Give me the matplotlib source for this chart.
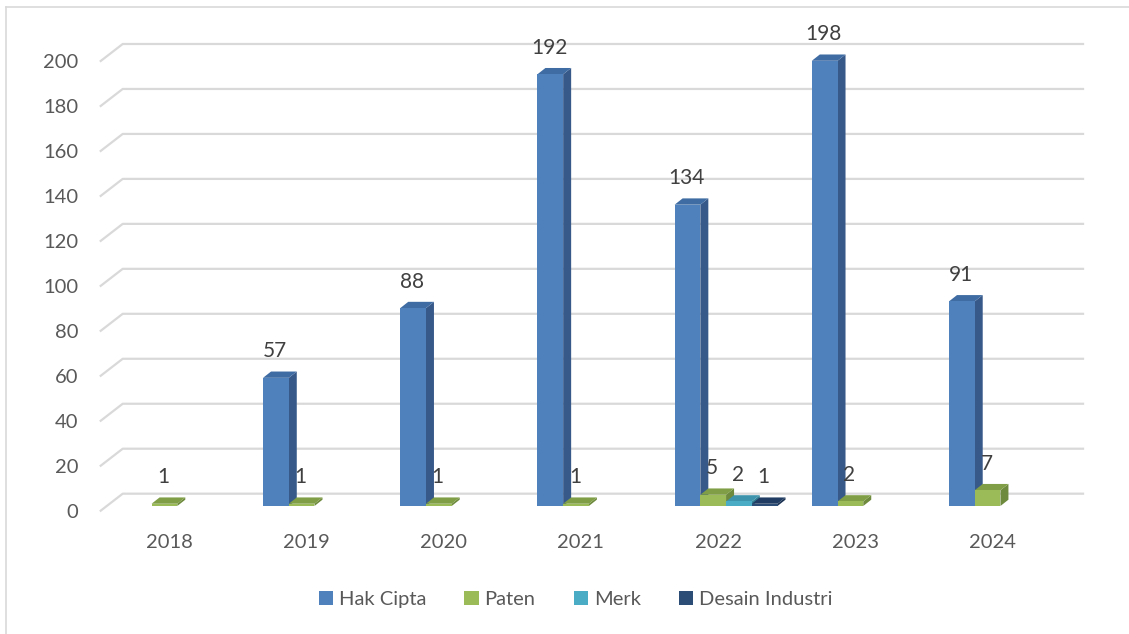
import numpy as np
import matplotlib.pyplot as plt
from matplotlib.patches import Polygon, Rectangle, Patch
from matplotlib.lines import Line2D

plt.rcParams['font.family'] = ['Lato', 'DejaVu Sans']

# data
years = ["2018", "2019", "2020", "2021", "2022", "2023", "2024"]
series_names = ["Hak Cipta", "Paten", "Merk", "Desain Industri"]
hak_cipta = [None, 57, 88, 192, 134, 198, 91]
paten = [1, 1, 1, 1, 5, 2, 7]
merk = [None, None, None, None, 2, None, None]
desain_industri = [None, None, None, None, 1, None, None]
all_series = [hak_cipta, paten, merk, desain_industri]

# front / side / top face colours per series
front_cols = ["#4F81BD", "#9BBB59", "#4BACC6", "#2C4D75"]
side_cols = ["#37598A", "#6E8A3C", "#317E93", "#1B3252"]
top_cols = ["#3F6CA3", "#7F9E45", "#3C93AB", "#213C62"]

fig = plt.figure(figsize=(11.29, 6.34), dpi=100)
ax = fig.add_axes([0.0892, 0.1945, 0.8506, 0.7093])
ax.set_xlim(-0.5, 6.5)
ax.set_ylim(0, 200)

# pixel -> data scale
ax_w_px = 0.8506 * 1129
ax_h_px = 0.7093 * 634
sx = ax_w_px / 7.0
sy = ax_h_px / 200.0

# back-wall gridlines with the slanted connector on the left
grid_dx, grid_dy = 22 / sx, 17 / sy
for yv in range(0, 201, 20):
    ax.plot([-0.5, -0.5 + grid_dx, 6.5 + grid_dx], [yv, yv + grid_dy, yv + grid_dy],
            color="#d9d9d9", lw=1.6, clip_on=False, zorder=0)

# 3D-ish bars
bar_w = 0.1875
off_x, off_y = 8 / sx, 4.7 / sy      # bars sit a bit behind the front plane
dep_x, dep_y = 8 / sx, 6.3 / sy      # bar depth
for i in range(len(years)):
    for k, vals in enumerate(all_series):
        v = vals[i]
        if v is None:
            continue
        x0 = i + (k - 2) * bar_w + off_x
        x1 = x0 + bar_w
        y0 = off_y
        y1 = v + off_y
        side = Polygon([(x1, y0), (x1 + dep_x, y0 + dep_y), (x1 + dep_x, y1 + dep_y), (x1, y1)],
                       closed=True, facecolor=side_cols[k], edgecolor="none", clip_on=False, zorder=2)
        top = Polygon([(x0, y1), (x1, y1), (x1 + dep_x, y1 + dep_y), (x0 + dep_x, y1 + dep_y)],
                      closed=True, facecolor=top_cols[k], edgecolor="none", clip_on=False, zorder=2)
        front = Rectangle((x0, y0), bar_w, v, facecolor=front_cols[k], edgecolor="none",
                          clip_on=False, zorder=2)
        ax.add_patch(side)
        ax.add_patch(top)
        ax.add_patch(front)
        ax.annotate(str(v), (x0 + bar_w / 2, y1), xytext=(-1, 26.5), textcoords="offset pixels",
                    ha="center", va="center", fontsize=15, color="#404040", zorder=3)

ax.set_yticks(range(0, 201, 20))
ax.set_xticks(range(len(years)))
ax.set_xticklabels(years)
ax.tick_params(axis="both", length=0, labelsize=14.5, labelcolor="#595959")
ax.tick_params(axis="y", pad=16)
ax.tick_params(axis="x", pad=17)
for s in ax.spines.values():
    s.set_visible(False)

handles = [Patch(facecolor=c, edgecolor="none", label=n) for c, n in zip(front_cols, series_names)]
leg = fig.legend(handles=handles, loc="center", bbox_to_anchor=(0.51, 0.054), ncol=4,
                 frameon=False, fontsize=14.5, handlelength=0.7, handleheight=0.7,
                 handletextpad=0.3, columnspacing=1.9)
for t in leg.get_texts():
    t.set_color("#595959")

# chart border (left and top visible only)
fig.add_artist(Line2D([6 / 1129, 6 / 1129], [0, 1 - 7 / 634], color="#d9d9d9", lw=1.2))
fig.add_artist(Line2D([6 / 1129, 1], [1 - 7 / 634, 1 - 7 / 634], color="#d9d9d9", lw=1.2))

fig.savefig("out.png", dpi=100)
